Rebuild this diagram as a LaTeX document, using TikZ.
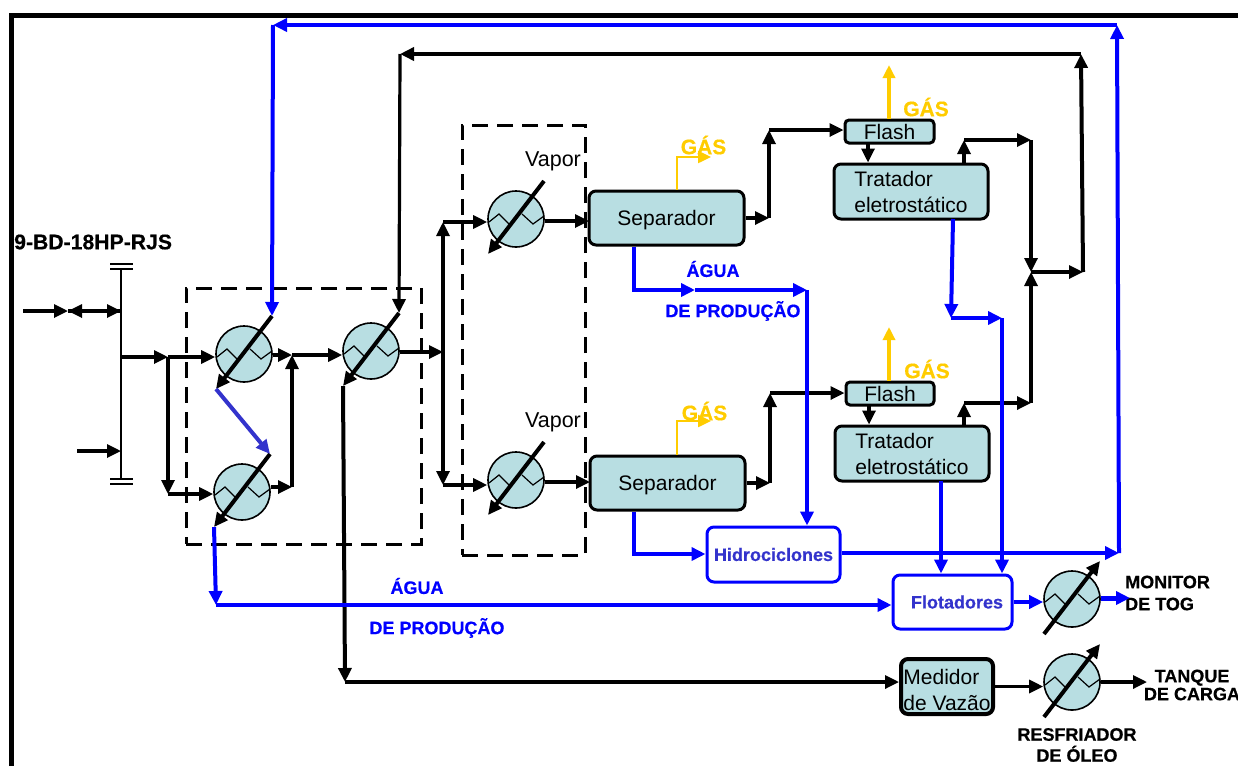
\documentclass[tikz,border=0pt]{standalone}
\usepackage{fontspec}
\setmainfont[BoldFeatures={FakeBold=0.5}]{Liberation Sans}
\usetikzlibrary{arrows.meta}
\definecolor{hxfill}{RGB}{184,222,226}
\definecolor{gasyellow}{RGB}{255,204,0}
\definecolor{indigoline}{RGB}{51,51,204}
\newcommand{\heatx}[2]{%
  \node[hx] (#1) at (#2) {};
  \draw[line width=1.2pt] ([shift={(-27,3)}]#1.center) -- ++(10,-8) -- ++(11,11) ([shift={(6,-5)}]#1.center) -- ++(11,10) -- ++(11,-8);
  \coordinate (#1t) at ([shift={(28,-38)}]#1.center);
  \coordinate (#1b) at ([shift={(-28,35)}]#1.center);}
\begin{document}
\begin{tikzpicture}[x=1pt,y=-1pt,
  hx/.style={circle,draw,line width=1.6pt,fill=hxfill,minimum size=56pt,inner sep=0pt},
  b/.style={draw,line width=3pt,rounded corners=7pt,fill=hxfill,inner sep=0pt,font=\fontsize{21}{26}\selectfont},
  w/.style={draw=blue,line width=3pt,rounded corners=7pt,fill=white,inner sep=0pt,text=indigoline,font=\fontsize{18}{22}\selectfont\bfseries},
  f/.style={-{Triangle[length=14pt,width=13pt]},line width=3.2pt},
  t/.style={-{Triangle[length=14pt,width=13pt]},line width=4pt},
  n/.style={-{Triangle[length=14pt,width=13pt]},line width=4pt,blue},
  gl/.style={-{Triangle[length=13pt,width=12pt]},line width=2.4pt,gasyellow},
  dbox/.style={draw,line width=3pt,dash pattern=on 16pt off 9pt},
  lab/.style={font=\fontsize{18}{21}\selectfont\bfseries,align=center,inner sep=0pt},
  gas/.style={font=\fontsize{21}{24}\selectfont\bfseries,text=gasyellow,inner sep=0pt},
  vap/.style={font=\fontsize{21.5}{24}\selectfont,inner sep=0pt}]
\clip (0,0) rectangle (1238,766);
% frame
\coordinate (fa) at (11,766); \coordinate (fb) at (11,15); \coordinate (fc) at (1238,15);
\draw[line width=5pt] (fa)--(fb)--(fc);
\node[font=\fontsize{21.2}{24}\selectfont\bfseries,inner sep=0pt,anchor=west] (well) at (14,242) {9-BD-18HP-RJS};
% dashed boxes
\node[dbox,minimum width=235pt,minimum height=256pt] (boxa) at (303.5,416) {};
\node[dbox,minimum width=123pt,minimum height=430pt] (boxb) at (523.5,340) {};
% exchangers
\heatx{hxa}{244,354}
\heatx{hxb}{242,492}
\heatx{hxc}{371,351}
\heatx{hxd}{516,219}
\heatx{hxe}{516,480}
\heatx{hxf}{1072,599}
\heatx{hxg}{1072,682}
% process boxes
\node[b,minimum width=155pt,minimum height=54pt,text depth=0pt] (sepa) at (666.5,218) {Separador};
\node[b,minimum width=155pt,minimum height=54pt,text depth=0pt] (sepb) at (667.5,483) {Separador};
\node[b,minimum width=89pt,minimum height=23pt,rounded corners=4pt] (flasha) at (889.5,131.5) {Flash};
\node[b,minimum width=88pt,minimum height=23pt,rounded corners=4pt] (flashb) at (890,393.5) {Flash};
\node[b,minimum width=154pt,minimum height=55pt,align=left] (trata) at (911,191.5) {Tratador\\eletrostático};
\node[b,minimum width=154pt,minimum height=55pt,align=left] (tratb) at (912,453.5) {Tratador\\eletrostático};
\node[b,minimum width=92pt,minimum height=55pt,align=left,line width=4pt,inner ysep=0pt] (med) at (947,686.5) {\rule{0pt}{22pt}Medidor\\de Vazão};
\node[w,minimum width=133pt,minimum height=55pt] (hidro) at (773.5,554.5) {Hidrociclones};
\node[w,minimum width=119pt,minimum height=54pt] (flot) at (952.5,602) {\hspace*{9pt}Flotadores};
% labels
\node[vap] (vapa) at (553,161.5) {Vapor};
\node[vap] (vapb) at (553,422) {Vapor};
\node[gas] (gasa) at (703.5,145) {GÁS};
\node[gas] (gasb) at (704.5,411) {GÁS};
\node[gas] (gasc) at (926,107) {GÁS};
\node[gas] (gasd) at (927,369) {GÁS};
\node[lab,text=blue] (agua) at (713,269) {ÁGUA};
\node[lab,text=blue] (prod) at (733,311) {DE PRODUÇÃO};
\node[lab,text=blue] (aguab) at (417,586) {ÁGUA};
\node[lab,text=blue] (prodb) at (437,628) {DE PRODUÇÃO};
\node[lab,align=left,anchor=west] (tog) at (1125,593) {MONITOR\\[1pt]DE TOG};
\node[lab] (tanque) at (1192,685) {TANQUE\\[-3pt]DE CARGA};
\node[lab] (resf) at (1077,745) {RESFRIADOR\\DE ÓLEO};
% header
\coordinate (ha) at (121,270); \coordinate (hb) at (121,480);
\coordinate (hc) at (121,311); \coordinate (hd) at (121,451); \coordinate (he) at (121,357);
\draw[line width=2pt] (ha)--(hb);
\coordinate (ta) at (110,264); \coordinate (tb) at (133,264); \coordinate (tc) at (110,269); \coordinate (td) at (133,269);
\coordinate (ua) at (110,479); \coordinate (ub) at (133,479); \coordinate (uc) at (110,484); \coordinate (ud) at (133,484);
\draw[line width=1.5pt] (ta)--(tb) (tc)--(td) (ua)--(ub) (uc)--(ud);
% feed
\coordinate (ina) at (23,311); \coordinate (inb) at (68,311); \coordinate (inc) at (77,451);
\draw[f] (ina)--(inb); \draw[f] (hc)--(inb); \draw[f] (inb)--(hc); \draw[f] (inc)--(hd);
\coordinate (ja) at (168,357); \coordinate (jb) at (168,494); \coordinate (jc) at (292,355); \coordinate (jd) at (292,487);
\draw[f] (he)--(ja); \draw[f] (ja)--(ja-|hxa.west); \draw[f] (ja)--(jb); \draw[f] (jb)--(jb-|hxb.west);
\draw[f] (hxa.east|-jc)--(jc); \draw[f] (jc)--(jc-|hxc.west); \draw[f] (hxb.east|-jd)--(jd); \draw[f] (jd)--(jc);
\coordinate (je) at (443,352); \coordinate (jf) at (443,222); \coordinate (jg) at (443,485);
\draw[f] (hxc.east|-je)--(je); \draw[f] (je)--(jf); \draw[f] (je)--(jg);
\draw[f] (jf)--(jf-|hxd.west); \draw[f] (jg)--(jg-|hxe.west);
\coordinate (sa) at (589,221); \coordinate (sb) at (590,482);
\draw[f] (sa-|hxd.east)--(sa); \draw[f] (sb-|hxe.east)--(sb);
% separators to flash
\coordinate (ka) at (769,218); \coordinate (kb) at (769,130); \coordinate (kc) at (770,483); \coordinate (kd) at (770,393);
\draw[f] (sepa.east)--(ka); \draw[f] (ka)--(kb); \draw[f] (kb)--(kb-|flasha.west);
\draw[f] (sepb.east)--(kc); \draw[f] (kc)--(kd); \draw[f] (kd)--(kd-|flashb.west);
\coordinate (ma) at (868,143); \coordinate (mb) at (869,405);
\draw[f] (ma)--(ma|-trata.north); \draw[f] (mb)--(mb|-tratb.north);
% treated oil
\coordinate (oa) at (964,140); \coordinate (ob) at (964,403); \coordinate (oc) at (1031,140); \coordinate (od) at (1031,403);
\coordinate (oe) at (1031,272); \coordinate (og) at (1083,272); \coordinate (oh) at (1081,54); \coordinate (oi) at (400,54);
\draw[f] (oa|-trata.north)--(oa); \draw[f] (oa)--(oc); \draw[f] (oc)--(oe);
\draw[f] (ob|-tratb.north)--(ob); \draw[f] (ob)--(od); \draw[f] (od)--(oe);
\draw[f] (oe)--(og); \draw[t] (og)--(oh);
\draw[t] (oh)--(oi); \draw[f] (oi)--(hxct);
% exchanger diagonals
\draw[t] (hxat)--(hxab);
\draw[t] (hxbt)--(hxbb);
\draw[t] (hxct)--(hxcb);
\draw[t] (hxdt)--(hxdb);
\draw[t] (hxet)--(hxeb);
\draw[t] (hxfb)--(hxft);
\draw[t] (hxgb)--(hxgt);
% oil to storage
\coordinate (pa) at (345,682);
\draw[t] (hxcb)--(pa); \draw[f] (pa)--(pa-|med.west);
\draw[f] (med.east)--(med.east-|hxg.west);
\coordinate (pb) at (1147,682);
\draw[f] (hxg.east)--(pb);
% gas
\coordinate (ga) at (677,157); \coordinate (gb) at (711,157); \coordinate (gc) at (677,421); \coordinate (gd) at (711,421);
\coordinate (ge) at (889,65); \coordinate (gf) at (889,327);
\draw[gl] (ga|-sepa.north)--(ga)--(gb); \draw[gl] (gc|-sepb.north)--(gc)--(gd);
\draw[gl,line width=3.4pt] (ge|-flasha.north)--(ge); \draw[gl,line width=3.4pt] (gf|-flashb.north)--(gf);
% produced water
\coordinate (wa) at (634,290); \coordinate (wb) at (695,290); \coordinate (wc) at (807,290); \coordinate (wd) at (634,554);
\draw[n] (wa|-sepa.south)--(wa)--(wb); \draw[n] (wb)--(wc); \draw[n] (wc)--(wc|-hidro.north);
\draw[n] (wd|-sepb.south)--(wd)--(wd-|hidro.west);
\coordinate (xa) at (1119,553); \coordinate (xb) at (1117,25); \coordinate (xc) at (273,25);
\draw[n] (hidro.east|-xa)--(xa); \draw[n] (xa)--(xb); \draw[n] (xb)--(xc); \draw[n] (xc)--(hxat);
\draw[n,indigoline] (hxab)--(hxbt);
\coordinate (ya) at (216,605);
\draw[n] (hxbb)--(ya); \draw[n] (ya)--(ya-|flot.west);
\coordinate (yb) at (953,219); \coordinate (yc) at (951,318); \coordinate (yd) at (1002,318); \coordinate (ye) at (941,481);
\draw[n] (yb)--(yc); \draw[n] (yc)--(yd); \draw[n] (yd)--(yd|-flot.north);
\draw[n] (ye)--(ye|-flot.north);
\draw[n] (flot.east)--(flot.east-|hxf.west);
\coordinate (yf) at (1130,598);
\draw[n,line width=5pt] (yf-|hxf.east)--(yf);
\end{tikzpicture}
\end{document}
